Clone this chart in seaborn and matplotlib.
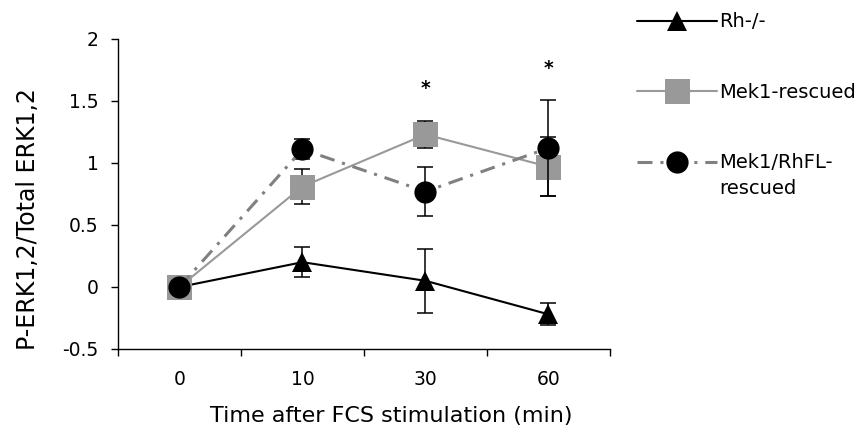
import numpy as np
import pandas as pd
import matplotlib
matplotlib.use("Agg")
import matplotlib.pyplot as plt
import seaborn as sns
from matplotlib.lines import Line2D
from matplotlib.ticker import FixedLocator, FuncFormatter

# ---------------- data ----------------
times = ["0", "10", "30", "60"]
rh_mean = [0.0, 0.20, 0.05, -0.22]
rh_err = [0.0, 0.12, 0.26, 0.09]
mek_mean = [0.0, 0.81, 1.23, 0.97]
mek_err = [0.0, 0.14, 0.11, 0.24]
mekrh_mean = [0.0, 1.11, 0.77, 1.12]
mekrh_err = [0.0, 0.08, 0.20, 0.39]
series_names = ["Rh-/-", "Mek1-rescued", "Mek1/RhFL-"]
star_times = ["30", "60"]
star_heights = [1.555, 1.72]
y_ticks = [-0.5, 0, 0.5, 1, 1.5, 2]

sns.set_theme(style="white")
plt.rcParams["font.family"] = ["DejaVu Sans"]
plt.rcParams["axes.unicode_minus"] = False
plt.rcParams["text.color"] = "black"
FS = 13.5
LEG_FS = 14

fig = plt.figure(figsize=(8.61, 4.33), dpi=100)
ax = fig.add_axes([0.137, 0.194, 0.5714, 0.716])

pos = {t: i for i, t in enumerate(times)}
xs = np.array([pos[t] for t in times])

styles = [
    dict(color="black", lw=1.5, ls="-", marker="^", ms=14.5, mfc="black", mec="black"),
    dict(color="#999999", lw=1.5, ls="-", marker="s", ms=18, mfc="#999999", mec="#999999"),
    dict(color="#808080", lw=2.2, ls=(0, (4.9, 2.6, 1.0, 2.6)), marker="o", ms=16,
         mfc="black", mec="black"),
]
means = [rh_mean, mek_mean, mekrh_mean]
errs = [rh_err, mek_err, mekrh_err]

for k, (name, m, e, st) in enumerate(zip(series_names, means, errs, styles)):
    df = pd.DataFrame({"time": times, "val": m})
    ax.errorbar(xs, m, yerr=e, fmt="none", ecolor="black", elinewidth=1.1,
                capsize=5.5, capthick=1.1, zorder=2 + 2 * k)
    sns.lineplot(data=df, x="time", y="val", ax=ax, sort=False, errorbar=None,
                 color=st["color"], linewidth=st["lw"], linestyle=st["ls"],
                 marker=st["marker"], markersize=st["ms"],
                 markerfacecolor=st["mfc"], markeredgecolor=st["mec"],
                 markeredgewidth=0, zorder=3 + 2 * k)

for t, h in zip(star_times, star_heights):
    ax.text(pos[t], h, "*", ha="center", va="baseline", fontsize=FS,
            fontweight="bold", color="black")

ax.set_xlim(-0.5, len(times) - 0.5)
ax.set_ylim(-0.5, 2)

for s in ["top", "right"]:
    ax.spines[s].set_visible(False)
for s in ["left", "bottom"]:
    ax.spines[s].set_color("black")
    ax.spines[s].set_linewidth(1.0)

ax.xaxis.set_major_locator(FixedLocator(xs))
ax.set_xticklabels(times)
ax.xaxis.set_minor_locator(FixedLocator(np.arange(-0.5, len(times), 1.0)))
ax.tick_params(axis="x", which="major", length=0, pad=15, labelsize=FS, colors="black")
ax.tick_params(axis="x", which="minor", length=5, width=1, direction="out",
               color="black", bottom=True)
ax.set_yticks(y_ticks)
ax.yaxis.set_major_formatter(FuncFormatter(lambda v, p: f"{v:g}"))
ax.tick_params(axis="y", which="major", length=5, width=1, direction="out",
               pad=9, labelsize=FS, colors="black", left=True)

ax.set_xlabel("Time after FCS stimulation (min)", fontsize=16, color="black")
ax.set_ylabel("P-ERK1,2/Total ERK1,2", fontsize=17, color="black")
ax.xaxis.set_label_coords(0.555, -0.185)
ax.yaxis.set_label_coords(-0.158, 0.42)

handles = []
for st in styles:
    handles.append(Line2D([0], [0], color=st["color"], lw=st["lw"], ls=st["ls"],
                          marker=st["marker"], ms=st["ms"], mfc=st["mfc"],
                          mec=st["mec"], mew=0))
leg = fig.legend(handles, series_names, loc="upper left",
                 bbox_to_anchor=(0.733, 0.985), frameon=False, fontsize=LEG_FS,
                 handlelength=4.1, handletextpad=0.15, labelspacing=2.65,
                 borderpad=0.3, borderaxespad=0, labelcolor="black")

fig.canvas.draw()
txt = leg.get_texts()[-1]
bb = txt.get_window_extent()
inv = fig.transFigure.inverted()
x0, y0 = inv.transform((bb.x0, bb.y0 - 7))
fig.text(x0, y0, "rescued", ha="left", va="top", fontsize=LEG_FS, color="black")

fig.savefig("out.png", dpi=100)
